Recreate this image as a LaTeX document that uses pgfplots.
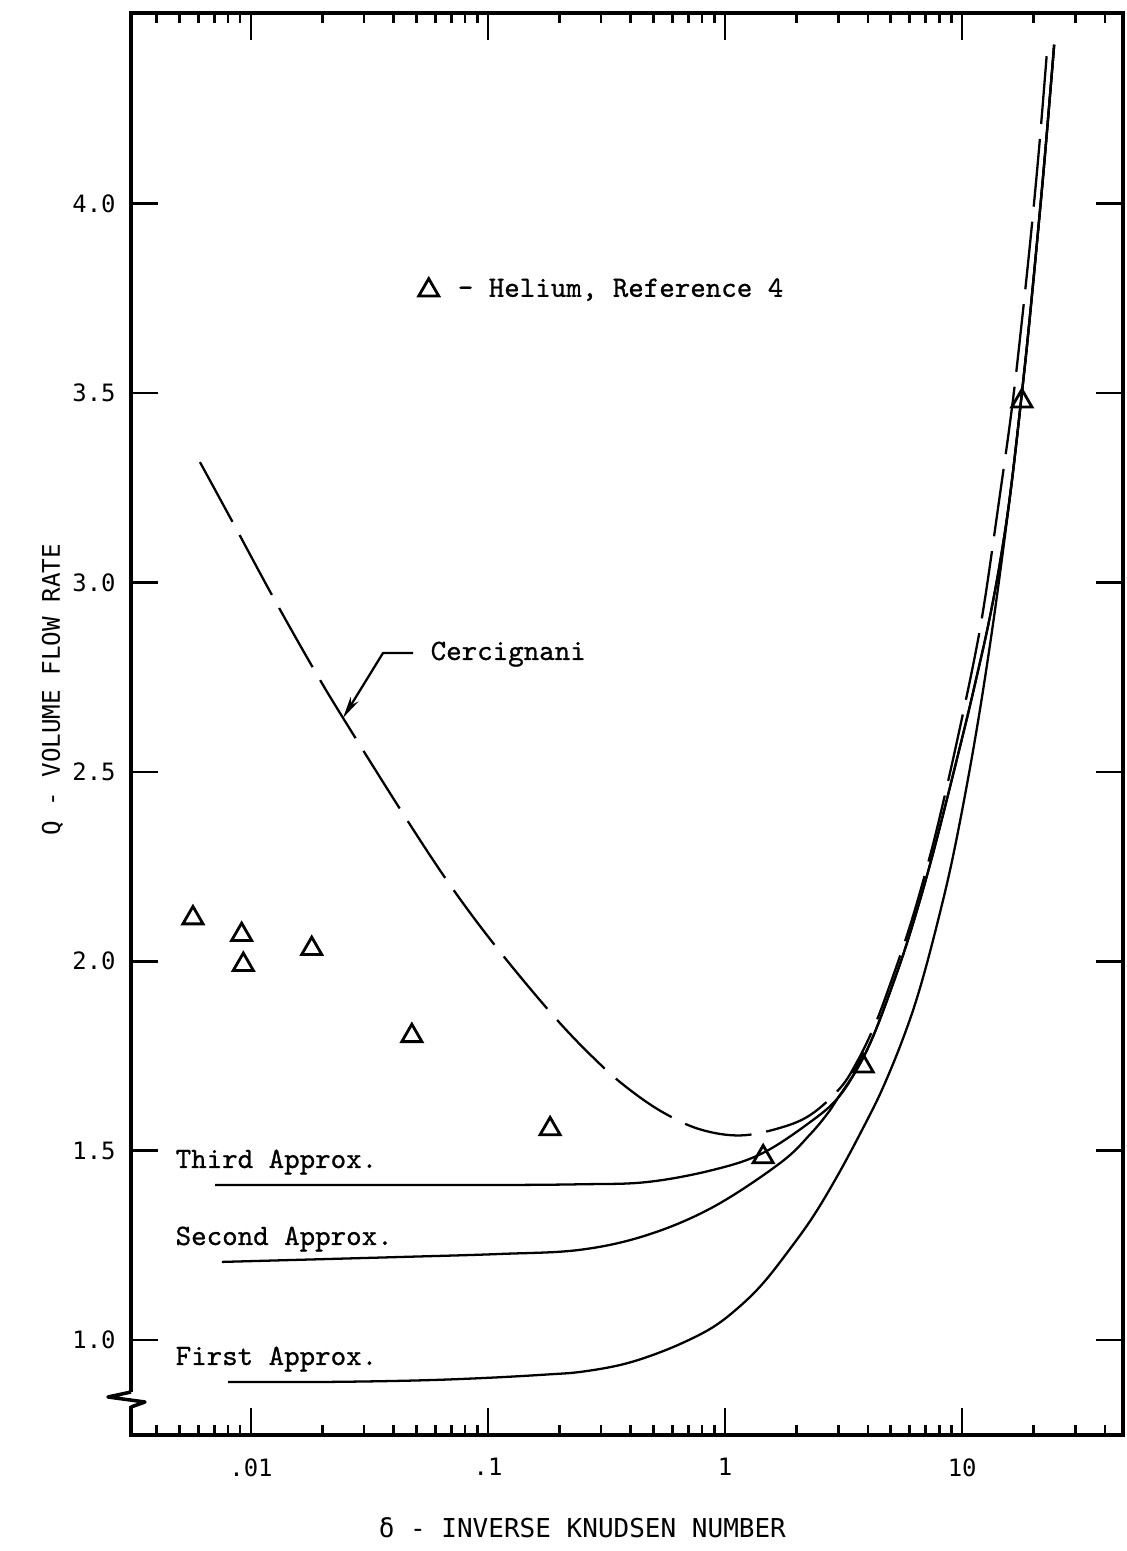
\documentclass[border=0pt]{standalone}
\usepackage{pgfplots}
\pgfplotsset{compat=1.18}
\usepackage{fontspec}
\usetikzlibrary{arrows.meta}
\newfontfamily\annotfont[FakeBold=0.8]{lmmono10-regular.otf}
\newfontfamily\sansmono{DejaVu Sans Mono}
\newcommand\annot{\fontsize{8.4pt}{10pt}\annotfont}
\newcommand\ticks{\fontsize{6.8pt}{8pt}\sansmono}
\newcommand\labs{\fontsize{7.4pt}{9pt}\sansmono}
\newcommand\ylabs{\fontsize{6.9pt}{9pt}\sansmono}
\begin{document}
\begin{tikzpicture}
\useasboundingbox (-13.1mm,-11.6mm) rectangle (99.6mm,143.5mm);
\begin{axis}[
  scale only axis, width=99.2mm, height=142.2mm,
  xmode=log, xmin=0.003117, xmax=47.7, ymin=0.749, ymax=4.504,
  axis line style={line width=1pt},
  xtick={0.01,0.1,1,10}, xticklabels={.01,.1,1,10},
  minor xtick={0.004,0.005,0.006,0.007,0.008,0.009,0.02,0.03,0.04,0.05,0.06,0.07,0.08,0.09,0.2,0.3,0.4,0.5,0.6,0.7,0.8,0.9,2,3,4,5,6,7,8,9,20,30,40},
  ytick={1,1.5,2,2.5,3,3.5,4}, yticklabels={1.0,1.5,2.0,2.5,3.0,3.5,4.0},
  minor y tick num=0,
  tick align=inside, major tick length=2.7mm, minor tick length=1mm,
  every tick/.style={black, line width=0.75pt},
  /pgf/number format/assume math mode=true,
  tick label style={font=\ticks},
  xticklabel style={yshift=-1.1mm},
  yticklabel style={xshift=-0.3mm},
  xlabel={δ - INVERSE KNUDSEN NUMBER},
  ylabel={Q - VOLUME FLOW RATE},
  xlabel style={font=\labs, at={(axis description cs:0.455,-0.0724)}, anchor=base},
  ylabel style={font=\ylabs, at={(axis description cs:-0.0716,0.524)}, anchor=base},
  legend style={at={(axis description cs:0.2893,0.805)}, anchor=west, draw=none, fill=none,
    inner sep=0pt, font=\annot, cells={anchor=west}},
  legend image code/.code={\draw[#1] plot coordinates {(0pt,0pt)};},
]
% Cercignani (dashed)
\addplot[forget plot, black, line width=0.65pt, dash pattern=on 6.8mm off 1.5mm, smooth, tension=0.6] coordinates {
(0.00609,3.318) (0.00839,3.158) (0.01238,2.962) (0.01827,2.7745) (0.02444,2.6425)
(0.04552,2.373) (0.0712,2.19) (0.1123,2.025) (0.1955,1.845) (0.297,1.728)
(0.3973,1.66) (0.55,1.60) (0.784,1.556) (1.157,1.540) (1.706,1.560) (2.3,1.595)
(3.056,1.665) (3.606,1.735) (4.2,1.82) (4.78,1.91) (6.0,2.09) (7.33,2.28) (8.5,2.445)
(9.81,2.62) (11.35,2.81) (12.5,2.96) (14.23,3.205) (16.21,3.46) (17.86,3.69)
(19.55,3.925) (21.13,4.15) (22.78,4.40)};
% Third approximation
\addplot[forget plot, black, line width=0.65pt, smooth, tension=0.6] coordinates {
(0.00705,1.409) (0.03,1.409) (0.1,1.409) (0.2445,1.411) (0.469,1.417) (0.890,1.449)
(1.447,1.494) (2.351,1.581) (3.0,1.640) (3.606,1.716) (4.2,1.80) (4.97,1.92) (6.0,2.07)
(7.544,2.286) (10.0,2.59) (11.5,2.75) (13.0,2.90) (14.5,3.06) (16.0,3.24) (17.86,3.50)
(19.36,3.71) (22.0,4.08) (24.44,4.42)};
% Second approximation
\addplot[forget plot, black, line width=0.65pt, smooth, tension=0.6] coordinates {
(0.00754,1.206) (0.0425,1.219) (0.1123,1.227) (0.2445,1.238) (0.469,1.277) (0.890,1.351)
(1.706,1.467) (2.3,1.545) (2.774,1.607) (3.0,1.640) (3.606,1.716) (4.2,1.80) (4.97,1.92)
(6.0,2.07) (7.544,2.286) (10.0,2.59) (11.5,2.75) (13.0,2.90) (14.5,3.06) (16.0,3.24)
(17.86,3.50) (19.36,3.71) (22.0,4.08) (24.44,4.42)};
% First approximation
\addplot[forget plot, black, line width=0.65pt, smooth, tension=0.6] coordinates {
(0.008,0.889) (0.02,0.889) (0.05,0.893) (0.1,0.900) (0.18,0.909) (0.2445,0.9155)
(0.35,0.932) (0.469,0.955) (0.65,0.990) (0.89,1.034) (1.15,1.088) (1.447,1.150)
(1.85,1.235) (2.351,1.326) (3.0,1.437) (3.822,1.560) (4.6,1.662) (5.638,1.797)
(6.651,1.931) (8.0,2.12) (9.344,2.305) (11.35,2.589) (13.51,2.893) (16.0,3.24)
(17.86,3.50) (19.36,3.71) (22.0,4.08) (24.44,4.42)};
% Helium data, Reference 4
\addplot[only marks, black, mark=triangle, mark size=3.3pt, line width=0.8pt] coordinates {
(0.00569,2.114) (0.00913,2.070) (0.00928,1.991) (0.01804,2.033) (0.0477,1.803)
(0.1827,1.557) (1.447,1.483) (3.822,1.723) (17.86,3.479)};
\addlegendentry{\hspace{1.2mm}- Helium, Reference 4}
\end{axis}
% axis break on the y axis
\fill[white] (-0.7mm,2.85mm) rectangle (0.7mm,4.25mm);
\draw[line width=1pt, line join=round] (0,4.3mm) -- (-2.3mm,3.8mm) -- (1.4mm,3.3mm) -- (0,2.8mm);
% annotations
\draw[line width=0.65pt, {Stealth[length=2.2mm,width=0.9mm]}-] (21.2mm,71.7mm) -- (25.2mm,78.2mm) -- (28.2mm,78.2mm);
\node[anchor=base west, inner sep=0pt, font=\annot] at (29.9mm,77.5mm) {Cercignani};
\node[anchor=base west, inner sep=0pt, font=\annot] at (4.4mm,26.7mm) {Third Approx.};
\node[anchor=base west, inner sep=0pt, font=\annot] at (4.4mm,19.0mm) {Second Approx.};
\node[anchor=base west, inner sep=0pt, font=\annot] at (4.4mm,7.0mm) {First Approx.};
\end{tikzpicture}
\end{document}
